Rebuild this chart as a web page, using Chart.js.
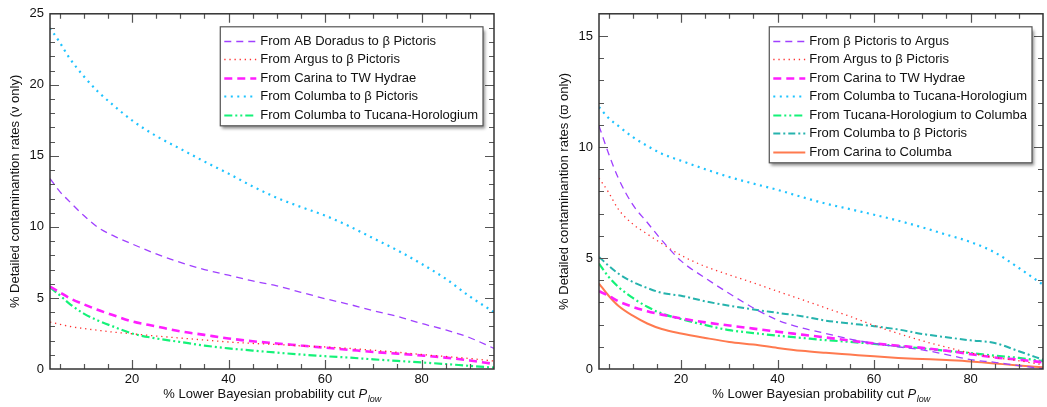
<!DOCTYPE html>
<html lang="en">
<head>
<meta charset="UTF-8">
<title>Detailed contamination rates</title>
<script src="https://cdn.jsdelivr.net/npm/chart.js"></script>
<style>
  body { margin: 0; background: #fff; }
  .panel { position: absolute; top: 0; }
  #left { left: 0; }
  #right { left: 549px; }
</style>
</head>
<body>
<div class="panel" id="left"><canvas id="nuChart" width="520" height="407"></canvas></div>
<div class="panel" id="right"><canvas id="varpiChart" width="498" height="407"></canvas></div>

<script>
// x positions (% lower Bayesian probability cut)
const pLow = [3, 5, 7, 10, 13, 16, 20, 25, 30, 35, 40, 45, 50, 55, 60, 65, 70, 75, 80, 85, 90, 95];

// left panel: nu only
const nuAbDorToBPic   = [13.4, 12.5, 11.8, 10.8, 9.95, 9.4, 8.8, 8.1, 7.5, 7.0, 6.6, 6.2, 5.85, 5.4, 4.95, 4.55, 4.1, 3.7, 3.2, 2.75, 2.2, 1.45];
const nuArgusToBPic   = [3.3, 3.15, 3.0, 2.85, 2.72, 2.6, 2.48, 2.32, 2.18, 2.04, 1.9, 1.8, 1.72, 1.63, 1.55, 1.45, 1.32, 1.18, 1.02, 0.88, 0.74, 0.56];
const nuCarinaToTWHya = [5.8, 5.4, 5.0, 4.55, 4.15, 3.8, 3.35, 3.0, 2.65, 2.4, 2.15, 1.95, 1.8, 1.65, 1.5, 1.35, 1.2, 1.08, 0.95, 0.8, 0.6, 0.35];
const nuColToBPic     = [24.0, 23.0, 21.9, 20.6, 19.5, 18.6, 17.5, 16.4, 15.5, 14.6, 13.75, 12.85, 12.05, 11.4, 10.8, 10.05, 9.2, 8.35, 7.4, 6.35, 5.1, 4.0];
const nuColToTucHor   = [5.75, 5.2, 4.6, 3.9, 3.4, 3.0, 2.5, 2.15, 1.9, 1.65, 1.45, 1.3, 1.15, 1.02, 0.9, 0.8, 0.68, 0.57, 0.46, 0.35, 0.22, 0.1];

// right panel: varpi only
const vpBPicToArgus    = [10.95, 9.7, 8.6, 7.4, 6.6, 5.8, 4.87, 4.1, 3.4, 2.75, 2.2, 1.85, 1.6, 1.35, 1.15, 1.0, 0.86, 0.65, 0.42, 0.3, 0.15, 0.02];
const vpArgusToBPic    = [8.6, 7.95, 7.2, 6.53, 6.08, 5.65, 5.12, 4.62, 4.24, 3.88, 3.5, 3.13, 2.75, 2.37, 1.96, 1.6, 1.27, 0.98, 0.72, 0.52, 0.37, 0.19];
const vpCarinaToTWHya  = [3.5, 3.3, 3.05, 2.8, 2.6, 2.45, 2.28, 2.1, 1.96, 1.82, 1.68, 1.55, 1.42, 1.28, 1.15, 1.05, 0.95, 0.82, 0.67, 0.52, 0.42, 0.3];
const vpColToTucHor    = [11.8, 11.3, 10.95, 10.45, 10.05, 9.7, 9.38, 9.0, 8.65, 8.35, 8.07, 7.75, 7.45, 7.2, 6.95, 6.68, 6.38, 6.05, 5.72, 5.25, 4.55, 3.8];
const vpTucHorToCol    = [4.75, 4.15, 3.7, 3.2, 2.8, 2.5, 2.25, 1.98, 1.75, 1.62, 1.5, 1.4, 1.3, 1.22, 1.13, 1.03, 0.93, 0.82, 0.72, 0.6, 0.5, 0.35];
const vpColToBPic      = [5.05, 4.65, 4.3, 3.92, 3.65, 3.43, 3.3, 3.05, 2.85, 2.68, 2.53, 2.38, 2.18, 2.05, 1.93, 1.78, 1.58, 1.43, 1.29, 1.17, 0.8, 0.42];
const vpCarinaToCol    = [3.85, 3.3, 2.85, 2.4, 2.05, 1.8, 1.6, 1.4, 1.22, 1.1, 0.95, 0.82, 0.73, 0.65, 0.57, 0.5, 0.45, 0.4, 0.34, 0.25, 0.16, 0.08];

const xTickLabels = [20, 40, 60, 80];

Chart.defaults.font.family = '"Liberation Sans", Arial, sans-serif';
Chart.defaults.font.size = 13;
Chart.defaults.color = '#111';

const styles = {
    purple:  { borderColor: '#a040ff', borderWidth: 1.3, borderDash: [7, 5] },
    red:     { borderColor: '#ff3030', borderWidth: 1.3, borderDash: [1.3, 3.8] },
    magenta: { borderColor: '#ff1eff', borderWidth: 2.6, borderDash: [8, 5] },
    cyan:    { borderColor: '#1ec3ff', borderWidth: 2.2, borderDash: [2, 4.5] },
    green:   { borderColor: '#14f278', borderWidth: 2.2, borderDash: [8, 3, 2, 3, 2, 3] },
    teal:    { borderColor: '#26b3ad', borderWidth: 2, borderDash: [7, 3, 2, 3] },
    coral:   { borderColor: '#ff7a4f', borderWidth: 2, borderDash: [] }
};

function series(label, values, style) {
    return Object.assign({
        label: label,
        data: pLow.map((x, i) => ({ x: x, y: values[i] })),
        pointRadius: 0,
        fill: false,
        cubicInterpolationMode: 'monotone'
    }, style);
}

// inward ticks on all four sides + frame
const frameTicks = {
    id: 'frameTicks',
    afterDatasetsDraw(chart) {
        const { ctx, chartArea: a, scales: { x, y } } = chart;
        ctx.save();
        ctx.strokeStyle = '#555';
        ctx.lineWidth = 1.2;
        ctx.beginPath();
        for (let v = 5; v < x.max; v += 5) {
            if (v <= x.min) continue;
            const px = Math.round(x.getPixelForValue(v)) + 0.5;
            const len = v % 20 === 0 ? 9 : 5;
            ctx.moveTo(px, a.bottom); ctx.lineTo(px, a.bottom - len);
            ctx.moveTo(px, a.top); ctx.lineTo(px, a.top + len);
        }
        for (let v = 1; v < y.max; v++) {
            const py = Math.round(y.getPixelForValue(v)) + 0.5;
            const len = v % 5 === 0 ? 9 : 5;
            ctx.moveTo(a.left, py); ctx.lineTo(a.left + len, py);
            ctx.moveTo(a.right, py); ctx.lineTo(a.right - len, py);
        }
        ctx.stroke();
        ctx.strokeStyle = '#333';
        ctx.lineWidth = 1.5;
        ctx.strokeRect(a.left, a.top, a.right - a.left, a.bottom - a.top);

        // x axis title with italic P and subscript "low"
        const main = '% Lower Bayesian probability cut ';
        const fam = Chart.defaults.font.family;
        ctx.fillStyle = '#111';
        ctx.textBaseline = 'alphabetic';
        ctx.font = '13px ' + fam;
        const w1 = ctx.measureText(main).width;
        ctx.font = 'italic 13px ' + fam;
        const w2 = ctx.measureText('P').width;
        ctx.font = 'italic 9px ' + fam;
        const w3 = ctx.measureText('low').width;
        let tx = (a.left + a.right) / 2 - (w1 + w2 + w3) / 2;
        const ty = 398;
        ctx.font = '13px ' + fam;
        ctx.fillText(main, tx, ty);
        tx += w1;
        ctx.font = 'italic 13px ' + fam;
        ctx.fillText('P', tx, ty);
        tx += w2 + 0.5;
        ctx.font = 'italic 9px ' + fam;
        ctx.fillText('low', tx, ty + 3.5);
        ctx.restore();
    }
};

// boxed legend inside the plot, top right
const boxLegend = {
    id: 'boxLegend',
    afterDatasetsDraw(chart) {
        const { ctx, chartArea: a } = chart;
        const sets = chart.data.datasets;
        const fam = Chart.defaults.font.family;
        ctx.save();
        ctx.font = '13px ' + fam;
        const textW = Math.max(...sets.map(d => ctx.measureText(d.label).width));
        const rowH = 18.5;
        const w = 4 + 32 + 4 + textW + 5;
        const h = 14 + rowH * (sets.length - 1) + 11;
        const bx = a.right - 11 - w;
        const by = a.top + 13;
        ctx.shadowColor = 'rgba(0,0,0,0.45)';
        ctx.shadowOffsetX = 2;
        ctx.shadowOffsetY = 3;
        ctx.shadowBlur = 3;
        ctx.fillStyle = '#fff';
        ctx.fillRect(bx, by, w, h);
        ctx.shadowColor = 'transparent';
        ctx.strokeStyle = '#555';
        ctx.lineWidth = 1.2;
        ctx.strokeRect(bx, by, w, h);
        sets.forEach((d, i) => {
            const cy = Math.round(by + 14 + i * rowH) + 0.5;
            ctx.strokeStyle = d.borderColor;
            ctx.lineWidth = d.borderWidth;
            ctx.setLineDash(d.borderDash || []);
            ctx.beginPath();
            ctx.moveTo(bx + 4, cy);
            ctx.lineTo(bx + 36, cy);
            ctx.stroke();
            ctx.setLineDash([]);
            ctx.fillStyle = '#111';
            ctx.textBaseline = 'middle';
            ctx.fillText(d.label, bx + 40, cy);
        });
        ctx.restore();
    }
};

function makeChart(canvasId, datasets, yMax, yTitle, padRight) {
    return new Chart(document.getElementById(canvasId), {
        type: 'line',
        data: { datasets: datasets },
        options: {
            responsive: false,
            animation: false,
            devicePixelRatio: 1,
            layout: { padding: { top: 10, right: padRight, bottom: 0, left: 0 } },
            plugins: { legend: { display: false }, tooltip: { enabled: false } },
            scales: {
                x: {
                    type: 'linear',
                    min: 3,
                    max: 95,
                    grid: { display: false, drawTicks: false },
                    border: { display: false },
                    ticks: { padding: 3, maxRotation: 0, color: '#111' },
                    afterBuildTicks: s => { s.ticks = xTickLabels.map(v => ({ value: v })); },
                    afterFit: s => { s.height = 38; }
                },
                y: {
                    min: 0,
                    max: yMax,
                    grid: { display: false, drawTicks: false },
                    border: { display: false },
                    ticks: { padding: 6, color: '#111' },
                    afterBuildTicks: s => {
                        const t = [];
                        for (let v = 0; v <= yMax; v += 5) t.push({ value: v });
                        s.ticks = t;
                    },
                    afterFit: s => { s.width = 50; },
                    title: {
                        display: true,
                        text: yTitle,
                        color: '#111',
                        padding: { top: 8, bottom: 0 },
                        font: { size: 13 }
                    }
                }
            }
        },
        plugins: [frameTicks, boxLegend]
    });
}

makeChart('nuChart', [
    series('From AB Doradus to β Pictoris', nuAbDorToBPic, styles.purple),
    series('From Argus to β Pictoris', nuArgusToBPic, styles.red),
    series('From Carina to TW Hydrae', nuCarinaToTWHya, styles.magenta),
    series('From Columba to β Pictoris', nuColToBPic, styles.cyan),
    series('From Columba to Tucana-Horologium', nuColToTucHor, styles.green)
], 25, '% Detailed contaminantion rates (ν only)', 26);

makeChart('varpiChart', [
    series('From β Pictoris to Argus', vpBPicToArgus, styles.purple),
    series('From Argus to β Pictoris', vpArgusToBPic, styles.red),
    series('From Carina to TW Hydrae', vpCarinaToTWHya, styles.magenta),
    series('From Columba to Tucana-Horologium', vpColToTucHor, styles.cyan),
    series('From Tucana-Horologium to Columba', vpTucHorToCol, styles.green),
    series('From Columba to β Pictoris', vpColToBPic, styles.teal),
    series('From Carina to Columba', vpCarinaToCol, styles.coral)
], 16, '% Detailed contaminantion rates (ϖ only)', 4);
</script>
</body>
</html>
